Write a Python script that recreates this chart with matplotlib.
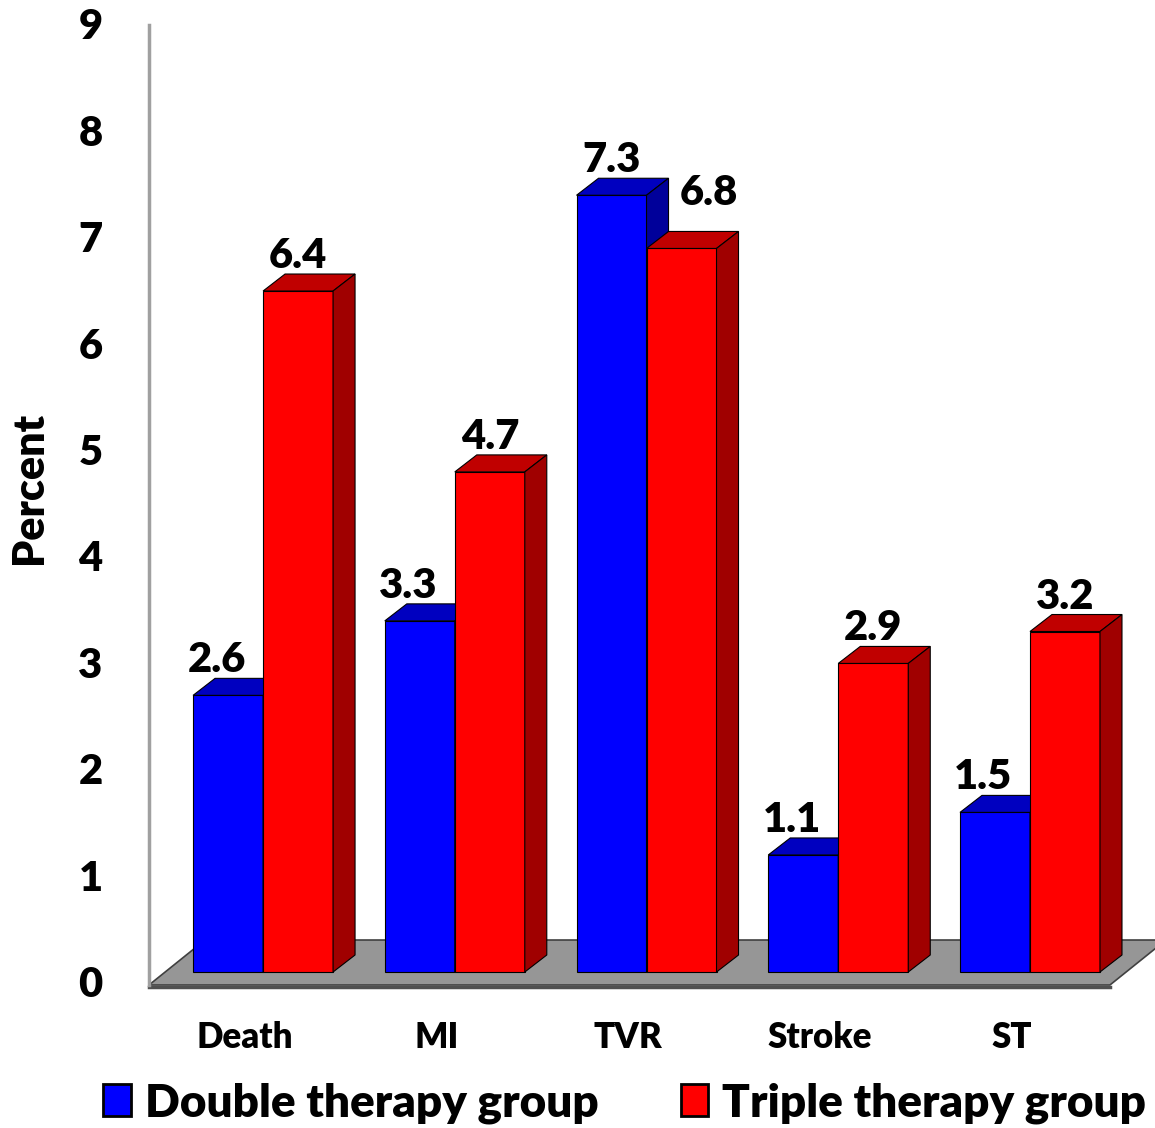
import matplotlib
matplotlib.use('Agg')
from matplotlib import pyplot as plt
from matplotlib.patches import Patch

# donnees
categories = ['Death', 'MI', 'TVR', 'Stroke', 'ST']
double_vals = [2.6, 3.3, 7.3, 1.1, 1.5]
triple_vals = [6.4, 4.7, 6.8, 2.9, 3.2]
series_names = ['Double therapy group', 'Triple therapy group']
yticks = [0, 1, 2, 3, 4, 5, 6, 7, 8, 9]

plt.rcParams['font.family'] = ['Lato', 'DejaVu Sans']
plt.rcParams['font.weight'] = 'heavy'

fig = plt.figure(figsize=(11.55, 11.28), dpi=100)
ax = fig.add_axes([0, 0, 1, 1])
ax.set_xlim(-1.372, 4.652)
ax.set_ylim(-1.466, 9.135)
ax.axis('off')

px_x = 1 / 191.75   # une unite x = 191.75 px
px_y = 1 / 106.4    # une unite y = 106.4 px
w = 70 * px_x
ddx = 22 * px_x
ddy = 17 * px_y

# sol gris
fy0 = -13 * px_y
fy1 = 32 * px_y
fx0 = -0.595
fx1 = 4.417
fdx = 56 * px_x
ax.fill([fx0, fx1, fx1 + fdx, fx0 + fdx], [fy0, fy0, fy1, fy1],
        color='#969696', ec='#404040', lw=1.2, zorder=1)
ax.plot([fx0, fx1], [fy0 - 1.5 * px_y, fy0 - 1.5 * px_y], color='#505050', lw=2.5, zorder=1)

# mur (axe vertical)
ax.plot([fx0, fx0], [fy0, 8.90], color='#a0a0a0', lw=2.5, zorder=1)

for k in yticks:
    ax.text(-0.90, k + fy0, str(k), ha='center', va='center', fontsize=30, fontweight='heavy')

ax.text(-1.22, 4.55, 'Percent', rotation=90, ha='center', va='center', fontsize=31, fontweight='heavy')

def barre3d(x0, h, c_front, c_top, c_side, z):
    ax.bar(x0, h, width=w, align='edge', color=c_front, ec='black', lw=0.8, zorder=z)
    ax.fill([x0, x0 + w, x0 + w + ddx, x0 + ddx], [h, h, h + ddy, h + ddy],
            color=c_top, ec='black', lw=0.8, zorder=z)
    ax.fill([x0 + w, x0 + w + ddx, x0 + w + ddx, x0 + w], [0, ddy, h + ddy, h],
            color=c_side, ec='black', lw=0.8, zorder=z)

for i in range(len(categories)):
    d = double_vals[i]
    t = triple_vals[i]
    barre3d(i - w, d, '#0000ff', '#0000c0', '#00009a', 2 + 2 * i)
    barre3d(i, t, '#ff0000', '#c00000', '#a00000', 3 + 2 * i)
    ax.text(i - w / 2 - (0.06 if d < t else 0), d + ddy + 6 * px_y, f'{d}',
            ha='center', va='baseline', fontsize=30, fontweight='heavy', zorder=20)
    if t < d:
        ax.text(i + w / 2 + 0.145, t + ddy + 26 * px_y, f'{t}',
                ha='center', va='baseline', fontsize=30, fontweight='heavy', zorder=20)
    else:
        ax.text(i + w / 2, t + ddy + 6 * px_y, f'{t}',
                ha='center', va='baseline', fontsize=30, fontweight='heavy', zorder=20)
    ax.text(i - 0.095, -0.62, categories[i], ha='center', va='center', fontsize=25, fontweight='heavy')

handles = [Patch(facecolor='#0000ff', edgecolor='black', lw=2),
           Patch(facecolor='#ff0000', edgecolor='black', lw=2)]
fig.legend(handles, series_names, loc='center left', bbox_to_anchor=(0.0736, 0.022),
           ncol=2, frameon=False, fontsize=33, handlelength=0.6, handleheight=0.7,
           handletextpad=0.3, columnspacing=1.8, borderaxespad=0)

fig.savefig('out.png', dpi=100)
